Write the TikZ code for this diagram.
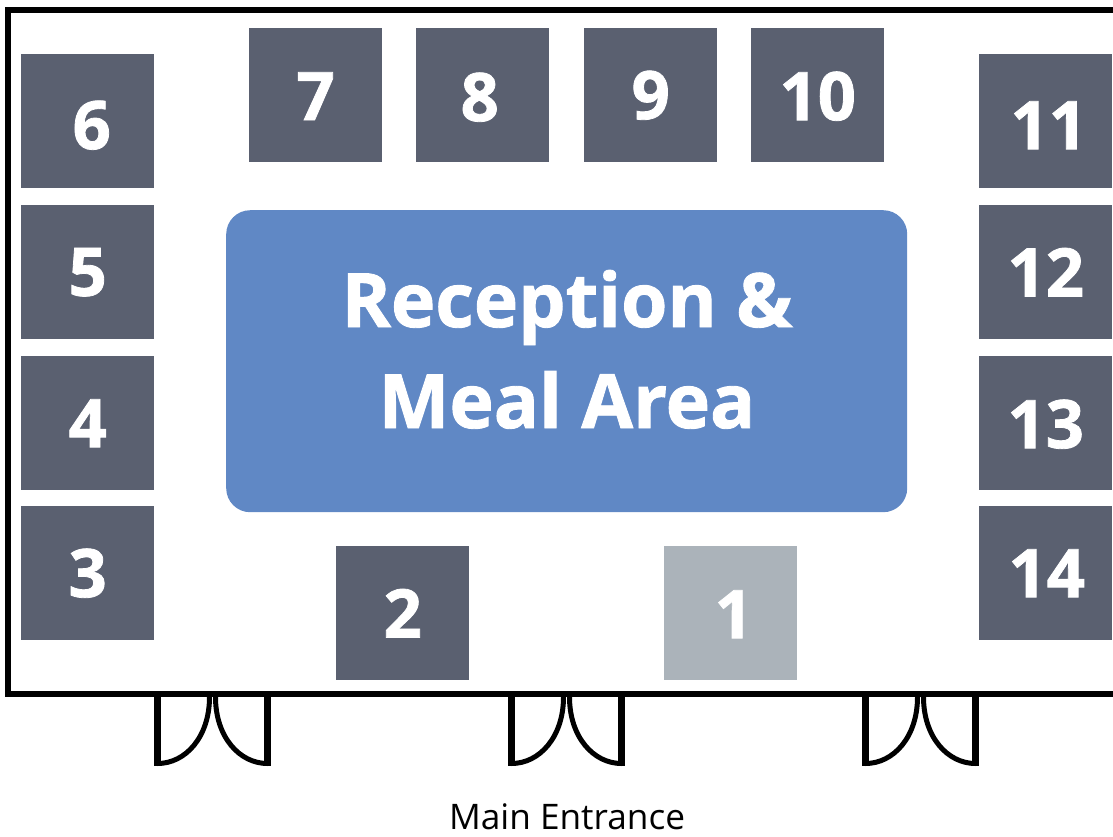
\documentclass[tikz,border=0pt]{standalone}
\usepackage{fontspec}
\setmainfont{Open Sans}
\newfontfamily\heavyfont[FakeBold=1.2]{Open Sans Bold}
\definecolor{booth}{HTML}{5A6070}
\definecolor{boothlight}{HTML}{ABB3BA}
\definecolor{hall}{HTML}{6088C5}
\newcommand{\digitfont}{\fontsize{67}{67}\selectfont\heavyfont}
\tikzset{
  x=1pt,y=-1pt,
  every label/.style={text=white,font=\digitfont,inner sep=0pt},
  boothbox/.style={fill=booth,draw=none,minimum width=133pt,minimum height=134pt,inner sep=0pt,anchor=north west},
  wall/.style={line width=6pt,draw=black,line cap=butt,line join=miter},
  doorline/.style={line width=5pt,draw=black,line join=round},
  doorjamb/.style={line width=6.5pt,draw=black},
  titletext/.style={text=white,font=\fontsize{75}{75}\selectfont\heavyfont,anchor=base,inner sep=0pt},
}
\newcommand{\doorpair}[1]{%
  \draw[doorjamb] (#1-55,697) -- (#1-55,766);
  \draw[doorjamb] (#1+55,697) -- (#1+55,766);
  \draw[doorline] (#1-55,763.5) .. controls (#1-27,763.5) and (#1-3,737) .. (#1-3,697);
  \draw[doorline] (#1+55,763.5) .. controls (#1+27,763.5) and (#1+3,737) .. (#1+3,697);
}
\begin{document}
\begin{tikzpicture}
\useasboundingbox (0,0) rectangle (1113,836);
\draw[wall] (1113,10) -- (8,10) -- (8,694) -- (1113,694);
\doorpair{212.5}
\doorpair{566.5}
\doorpair{920.5}
\node[boothbox,label={[xshift=4pt,yshift=-4pt]center:6}] (b6) at (21,54) {};
\node[boothbox,label={[xshift=0pt,yshift=0pt]center:5}] (b5) at (21,205) {};
\node[boothbox,label={[xshift=0pt,yshift=0pt]center:4}] (b4) at (21,356) {};
\node[boothbox,label={[xshift=0pt,yshift=0pt]center:3}] (b3) at (21,506) {};
\node[boothbox,label={[xshift=0pt,yshift=-1pt]center:7}] (b7) at (249,28) {};
\node[boothbox,label={[xshift=-3pt,yshift=-2pt]center:8}] (b8) at (416,28) {};
\node[boothbox,label={[xshift=0pt,yshift=0pt]center:9}] (b9) at (584,28) {};
\node[boothbox,label={[xshift=0pt,yshift=-1pt]center:10}] (b10) at (751,28) {};
\node[boothbox,label={[xshift=3pt,yshift=-4pt]center:11}] (b11) at (979,54) {};
\node[boothbox,label={[xshift=0pt,yshift=0pt]center:12}] (b12) at (979,205) {};
\node[boothbox,label={[xshift=0pt,yshift=-1pt]center:13}] (b13) at (979,356) {};
\node[boothbox,label={[xshift=1pt,yshift=0pt]center:14}] (b14) at (979,506) {};
\node[boothbox,label={[xshift=0pt,yshift=0pt]center:2}] (b2) at (336,546) {};
\node[boothbox,fill=boothlight,label={[xshift=3pt,yshift=-1pt]center:1}] (b1) at (664,546) {};
\node[fill=hall,rounded corners=24pt,minimum width=681pt,minimum height=302pt,inner sep=0pt,anchor=north west] (hall) at (226,210) {};
\node[titletext] (l1) at (567,327) {Reception \&};
\node[titletext] (l2) at (567,428) {Meal Area};
\node[font=\fontsize{35.2}{35.2}\selectfont,inner sep=0pt,anchor=base] (entrance) at (567,829) {Main Entrance};
\end{tikzpicture}
\end{document}
